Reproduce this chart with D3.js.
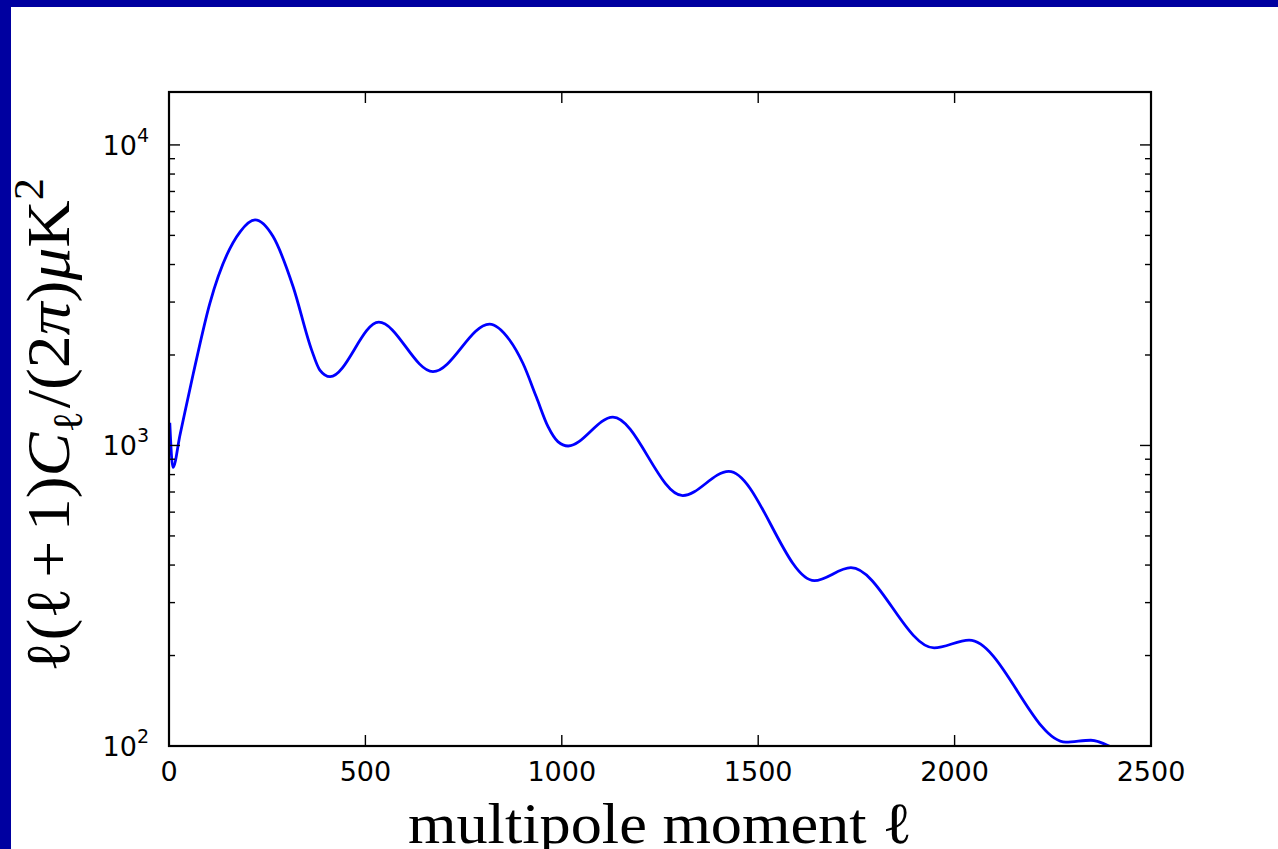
<!DOCTYPE html>
<html>
<head>
<meta charset="utf-8">
<script src="https://cdn.jsdelivr.net/npm/d3@7"></script>
<style>
  html, body { margin: 0; padding: 0; background: #fff; }
  svg { display: block; }
</style>
</head>
<body>
<script>
// CMB temperature power spectrum, l(l+1)C_l/(2pi) in microK^2 versus multipole l
const ell = [2, 10, 28, 62, 104, 181, 219, 265, 316, 363, 384, 410, 534, 672, 816, 867, 901, 935, 965, 990, 1016, 1130, 1308, 1425, 1643, 1736, 1948, 2037, 2283, 2347, 2400, 2440];
const power = [1190, 845, 1084, 1738, 2972, 5140, 5630, 4955, 3374, 2080, 1782, 1694, 2571, 1761, 2535, 2244, 1877, 1452, 1155, 1030, 996, 1242, 681, 820, 355, 392, 212, 225, 103, 104.5, 99, 92];

const xTicks = [0, 500, 1000, 1500, 2000, 2500];
const yMajor = [100, 1000, 10000];
const yMajorExp = ["2", "3", "4"];
const yMinor = [200, 300, 400, 500, 600, 700, 800, 900, 2000, 3000, 4000, 5000, 6000, 7000, 8000, 9000];

const W = 1278, H = 849;
const L = 169, R = 1151, T = 92, B = 746;

const svg = d3.select("body").append("svg").attr("width", W).attr("height", H);

// slide frame
svg.append("rect").attr("x", 0).attr("y", 0).attr("width", W).attr("height", H).attr("fill", "#fff");
svg.append("rect").attr("x", 0).attr("y", 0).attr("width", W).attr("height", 7).attr("fill", "#0000a0");
svg.append("rect").attr("x", 0).attr("y", 0).attr("width", 11).attr("height", H).attr("fill", "#0000a0");

const x = d3.scaleLinear().domain([0, 2500]).range([L, R]);
const y = d3.scaleLog().domain([100, 15000]).range([B, T]);

svg.append("defs").append("clipPath").attr("id", "plotclip")
  .append("rect").attr("x", L).attr("y", T).attr("width", R - L).attr("height", B - T);

const pts = ell.map((l, i) => [l, power[i]]);
const line = d3.line().x(d => x(d[0])).y(d => y(d[1])).curve(d3.curveMonotoneX);

svg.append("path").datum(pts)
  .attr("clip-path", "url(#plotclip)")
  .attr("d", line)
  .attr("fill", "none")
  .attr("stroke", "#0000ff")
  .attr("stroke-width", 2.8)
  .attr("stroke-linejoin", "round");

// ticks, drawn inward on all four sides
const tk = svg.append("g").attr("stroke", "#000").attr("stroke-width", 1.4);
xTicks.forEach(v => {
  tk.append("line").attr("x1", x(v)).attr("x2", x(v)).attr("y1", B).attr("y2", B - 11);
  tk.append("line").attr("x1", x(v)).attr("x2", x(v)).attr("y1", T).attr("y2", T + 11);
});
yMajor.forEach(v => {
  tk.append("line").attr("x1", L).attr("x2", L + 11).attr("y1", y(v)).attr("y2", y(v));
  tk.append("line").attr("x1", R).attr("x2", R - 11).attr("y1", y(v)).attr("y2", y(v));
});
yMinor.forEach(v => {
  tk.append("line").attr("x1", L).attr("x2", L + 6).attr("y1", y(v)).attr("y2", y(v));
  tk.append("line").attr("x1", R).attr("x2", R - 6).attr("y1", y(v)).attr("y2", y(v));
});

// axes box
svg.append("rect").attr("x", L).attr("y", T).attr("width", R - L).attr("height", B - T)
  .attr("fill", "none").attr("stroke", "#000").attr("stroke-width", 2.2);

// tick labels
const tickFont = "'DejaVu Sans', sans-serif";
xTicks.forEach(v => {
  svg.append("text").attr("x", x(v)).attr("y", B + 35)
    .attr("text-anchor", "middle").attr("font-family", tickFont).attr("font-size", 27)
    .attr("fill", "#000").text(v);
});
yMajor.forEach((v, i) => {
  const t = svg.append("text").attr("x", L - 20).attr("y", y(v) + 10)
    .attr("text-anchor", "end").attr("font-family", tickFont).attr("font-size", 27).attr("fill", "#000");
  t.append("tspan").text("10");
  t.append("tspan").attr("dy", -13).attr("font-size", 19).text(yMajorExp[i]);
});

// axis titles
const mathFont = "'Liberation Serif', 'DejaVu Serif', serif";
svg.append("text").attr("x", (L + R) / 2).attr("y", 843)
  .attr("text-anchor", "middle").attr("font-family", mathFont).attr("font-size", 58)
  .attr("textLength", 504).attr("lengthAdjust", "spacingAndGlyphs")
  .attr("fill", "#000")
  .text("multipole moment \u2113");

const yl = svg.append("text")
  .attr("transform", "translate(69,425) rotate(-90)")
  .attr("text-anchor", "middle").attr("font-family", mathFont).attr("font-size", 62)
  .attr("textLength", 494).attr("lengthAdjust", "spacingAndGlyphs")
  .attr("fill", "#000");
yl.append("tspan").text("\u2113(\u2113");
yl.append("tspan").attr("dx", 9).text("+");
yl.append("tspan").attr("dx", 9).text("1)");
yl.append("tspan").attr("font-style", "italic").text("C");
yl.append("tspan").attr("dy", 13).attr("font-size", 42).text("\u2113");
yl.append("tspan").attr("dy", -13).attr("dx", 3).text("/(2");
yl.append("tspan").attr("font-style", "italic").text("\u03c0");
yl.append("tspan").text(")");
yl.append("tspan").attr("font-style", "italic").text("\u03bc");
yl.append("tspan").text("K");
yl.append("tspan").attr("dy", -26).attr("font-size", 42).text("2");
</script>
</body>
</html>
